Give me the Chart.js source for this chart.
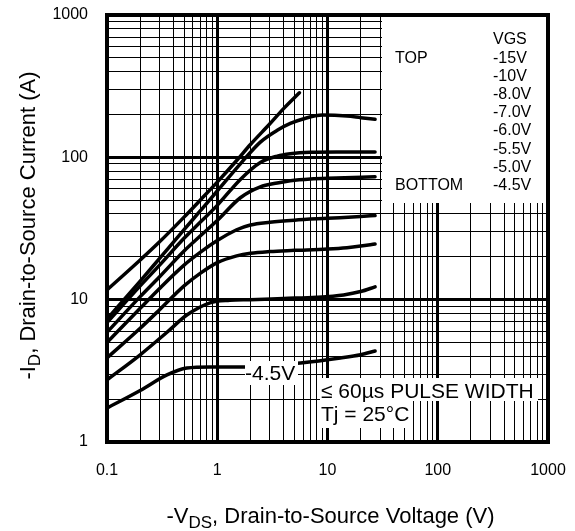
<!DOCTYPE html>
<html>
<head>
<meta charset="utf-8">
<script src="https://cdn.jsdelivr.net/npm/chart.js@4.4.1/dist/chart.umd.min.js"></script>
<style>
  html, body { margin: 0; padding: 0; background: #fff; }
  canvas { display: block; }
</style>
</head>
<body>
<canvas id="c" width="575" height="531"></canvas>
<script>
// ---- data ----
const vds15 = [0.1, 0.2, 0.3, 0.5, 0.7, 1, 1.5, 2, 3, 4, 5.56];
const id15  = [11.7, 19, 25.5, 38, 50, 67, 95, 123, 172, 220, 284];

const vds10 = [0.1, 0.2, 0.3, 0.5, 0.7, 1, 1.62, 2.46, 3.5, 4.6, 6, 9, 15, 20, 27];
const id10  = [7.3, 13.5, 19.5, 31, 42, 58, 90, 128, 155, 173, 186, 198, 195, 190, 185];

const vds8 = [0.1, 0.2, 0.3, 0.5, 0.7, 1, 1.62, 2.46, 3.5, 4.6, 7, 12, 27];
const id8  = [6.9, 12.5, 17.5, 27, 35, 46, 70, 92, 102, 106, 108.5, 109, 109];

const vds7 = [0.1, 0.2, 0.3, 0.5, 0.7, 1, 1.62, 2.46, 3.5, 4.6, 7, 12, 27];
const id7  = [5.9, 10.5, 14.5, 22, 28, 36, 52, 62, 66, 68.5, 70.5, 71.5, 73];

const vds6 = [0.1, 0.2, 0.3, 0.5, 0.7, 1, 1.5, 2, 3, 5, 10, 20, 27];
const id6  = [5.0, 8.7, 12, 17.5, 21.5, 26, 31, 33.5, 35, 36.2, 37.3, 38.4, 39];

const vds55 = [0.1, 0.2, 0.3, 0.5, 0.7, 1, 1.5, 2, 3, 5, 10, 15, 20, 27];
const id55  = [3.9, 6.3, 8.5, 12.5, 15.3, 18.2, 20.3, 21.2, 21.8, 22.2, 22.7, 23.2, 23.8, 24.6];

const vds5 = [0.1, 0.2, 0.35, 0.53, 0.86, 1.3, 2, 4, 8, 14, 20, 27];
const id5  = [2.73, 4.1, 5.9, 7.8, 9.5, 9.9, 10.0, 10.2, 10.4, 10.8, 11.4, 12.3];

const vds45 = [0.1, 0.2, 0.35, 0.53, 0.86, 1.87, 5.7, 13.1, 20, 27];
const id45  = [1.73, 2.3, 2.96, 3.31, 3.37, 3.37, 3.59, 3.89, 4.1, 4.36];

const xTickValues = [0.1, 1, 10, 100, 1000];
const xTickLabels = ['0.1', '1', '10', '100', '1000'];
const yTickValues = [1, 10, 100, 1000];
const yTickLabels = ['1', '10', '100', '1000'];

const legendTitle = 'VGS';
const legendEntries = ['-15V', '-10V', '-8.0V', '-7.0V', '-6.0V', '-5.5V', '-5.0V', '-4.5V'];
const legendTop = 'TOP';
const legendBottom = 'BOTTOM';
const curveLabel = '-4.5V';
const noteLines = ['\u2264 60\u00b5s PULSE WIDTH', 'Tj = 25\u00b0C'];

const xTitleParts = [['-V', false], ['DS', true], [', Drain-to-Source Voltage (V)', false]];
const yTitleParts = [['-I', false], ['D', true], [', Drain-to-Source Current (A)', false]];

// ---- helpers ----
function decadeGrid(lo, hi) {
  const out = [];
  for (let e = Math.log10(lo); e < Math.log10(hi) - 1e-9; e++) {
    const b = Math.pow(10, e);
    for (let m = 1; m <= 9; m++) out.push(+(m * b).toPrecision(6));
  }
  out.push(hi);
  return out;
}
function isDecade(v) {
  const l = Math.log10(v);
  return Math.abs(l - Math.round(l)) < 1e-6;
}
function labelFor(values, labels, v) {
  const i = values.findIndex(t => Math.abs(t - v) / t < 1e-6);
  return i >= 0 ? labels[i] : '';
}
function pts(xs, ys) { return xs.map((x, i) => ({ x: x, y: ys[i] })); }

const FONT = '"Liberation Sans", Arial, Helvetica, sans-serif';

const series = [
  [vds15, id15], [vds10, id10], [vds8, id8], [vds7, id7],
  [vds6, id6], [vds55, id55], [vds5, id5], [vds45, id45]
];

const datasets = series.map((s, i) => ({
  label: legendEntries[i],
  data: pts(s[0], s[1]),
  borderColor: '#000',
  borderWidth: 3.5,
  pointRadius: 0,
  fill: false,
  cubicInterpolationMode: 'monotone',
  borderCapStyle: 'round'
}));

function drawParts(ctx, parts, size, subSize, subDrop) {
  let total = 0;
  const widths = parts.map(p => {
    ctx.font = (p[1] ? subSize : size) + 'px ' + FONT;
    const w = ctx.measureText(p[0]).width;
    total += w;
    return w;
  });
  let x = -total / 2;
  parts.forEach((p, i) => {
    ctx.font = (p[1] ? subSize : size) + 'px ' + FONT;
    ctx.fillText(p[0], x, p[1] ? subDrop : 0);
    x += widths[i];
  });
}

const overlay = {
  id: 'overlay',
  afterDatasetsDraw(chart) {
    const ctx = chart.ctx;
    const a = chart.chartArea;
    ctx.save();
    ctx.fillStyle = '#fff';
    // legend panel
    ctx.fillRect(382, a.top + 1, a.right - 2 - 382, 202 - a.top);
    // curve label box
    ctx.fillRect(245, 361, 53, 24);
    // note boxes
    ctx.fillRect(320, 378, 218, 23);
    ctx.fillRect(320, 400, 93, 28);

    ctx.fillStyle = '#000';
    ctx.textAlign = 'left';
    ctx.textBaseline = 'alphabetic';
    ctx.font = '16px ' + FONT;
    ctx.fillText(legendTitle, 493, 44);
    legendEntries.forEach((t, i) => ctx.fillText(t, 493, 63 + i * 18.1));
    ctx.fillText(legendTop, 395, 63);
    ctx.fillText(legendBottom, 395, 63 + 7 * 18.1);

    ctx.font = '21px ' + FONT;
    ctx.fillText(curveLabel, 245, 380);
    ctx.fillText(noteLines[0], 321, 398);
    ctx.fillText(noteLines[1], 321, 421);

    // frame
    ctx.strokeStyle = '#000';
    ctx.lineWidth = 4;
    ctx.strokeRect(a.left, a.top, a.right - a.left, a.bottom - a.top);
    ctx.restore();
  },
  afterDraw(chart) {
    const ctx = chart.ctx;
    const a = chart.chartArea;
    ctx.save();
    ctx.fillStyle = '#000';
    ctx.textAlign = 'left';
    ctx.textBaseline = 'alphabetic';
    ctx.translate((a.left + a.right) / 2 + 3, 523);
    drawParts(ctx, xTitleParts, 22, 17, 5);
    ctx.restore();

    ctx.save();
    ctx.fillStyle = '#000';
    ctx.textAlign = 'left';
    ctx.textBaseline = 'alphabetic';
    ctx.translate(35, (a.top + a.bottom) / 2 - 3);
    ctx.rotate(-Math.PI / 2);
    drawParts(ctx, yTitleParts, 22, 17, 5);
    ctx.restore();
  }
};

const xGrid = decadeGrid(0.1, 1000);
const yGrid = decadeGrid(1, 1000);

new Chart(document.getElementById('c'), {
  type: 'line',
  data: { datasets: datasets },
  options: {
    responsive: false,
    animation: false,
    devicePixelRatio: 1,
    layout: { padding: { top: 15, right: 27, left: 0, bottom: 0 } },
    plugins: { legend: { display: false }, tooltip: { enabled: false }, title: { display: false } },
    scales: {
      x: {
        type: 'logarithmic',
        position: 'bottom',
        min: 0.1,
        max: 1000,
        afterBuildTicks: s => { s.ticks = xGrid.map(v => ({ value: v, major: isDecade(v) })); },
        afterFit: s => { s.height = 89; },
        grid: {
          color: '#000',
          lineWidth: c => (c.tick && isDecade(c.tick.value)) ? 3 : 1,
          drawTicks: true,
          tickLength: 19,
          tickColor: 'rgba(0,0,0,0)'
        },
        border: { display: false },
        ticks: {
          autoSkip: false,
          maxRotation: 0,
          minRotation: 0,
          padding: 0,
          color: '#000',
          font: { family: FONT, size: 16 },
          callback: v => labelFor(xTickValues, xTickLabels, v)
        }
      },
      y: {
        type: 'logarithmic',
        position: 'left',
        min: 1,
        max: 1000,
        afterBuildTicks: s => { s.ticks = yGrid.map(v => ({ value: v, major: isDecade(v) })); },
        afterFit: s => { s.width = 107; },
        grid: {
          color: '#000',
          lineWidth: c => (c.tick && isDecade(c.tick.value)) ? 3 : 1,
          drawTicks: true,
          tickLength: 19,
          tickColor: 'rgba(0,0,0,0)'
        },
        border: { display: false },
        ticks: {
          autoSkip: false,
          padding: 0,
          color: '#000',
          font: { family: FONT, size: 16 },
          callback: v => labelFor(yTickValues, yTickLabels, v)
        }
      }
    }
  },
  plugins: [overlay]
});
</script>
</body>
</html>
